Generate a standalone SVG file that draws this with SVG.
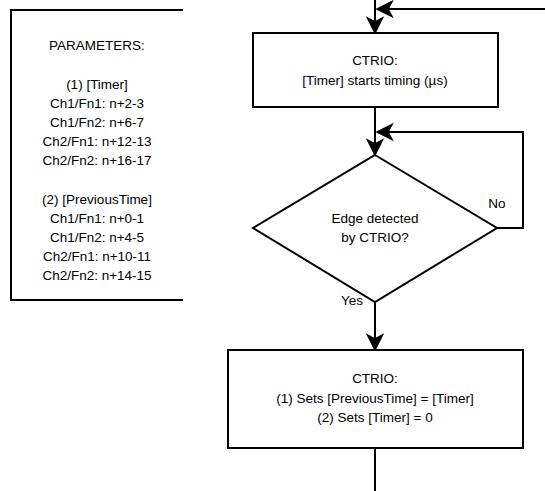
<svg xmlns="http://www.w3.org/2000/svg" width="545" height="491" viewBox="0 0 545 491">
<style>
text{font-family:"Liberation Sans",Arial,sans-serif;font-size:13.5px;fill:#000;text-anchor:middle;dominant-baseline:central}
.s{fill:#fff;stroke:#000;stroke-width:2}
.c{fill:none;stroke:#000;stroke-width:2}
</style>
<defs>
<marker id="a" markerUnits="userSpaceOnUse" viewBox="-18 -10 20 20" refX="0" refY="0" markerWidth="20" markerHeight="20" orient="auto">
<path d="M0,0 L-15,-7.5 L-11,0 L-15,7.5 Z" fill="#000" stroke="#000" stroke-width="1.5"/>
</marker>
</defs>
<rect width="545" height="491" fill="#fff"/>
<g id="params">
<path class="c" d="M183,10 H11 V300 H183"/>
<text x="97" y="45">PARAMETERS:</text>
<text x="97" y="84">(1) [Timer]</text>
<text x="97" y="103">Ch1/Fn1: n+2-3</text>
<text x="97" y="122">Ch1/Fn2: n+6-7</text>
<text x="97" y="141">Ch2/Fn1: n+12-13</text>
<text x="97" y="160">Ch2/Fn2: n+16-17</text>
<text x="97" y="199">(2) [PreviousTime]</text>
<text x="97" y="218">Ch1/Fn1: n+0-1</text>
<text x="97" y="237">Ch1/Fn2: n+4-5</text>
<text x="97" y="256">Ch2/Fn1: n+10-11</text>
<text x="97" y="275">Ch2/Fn2: n+14-15</text>
</g>
<g id="connectors">
<path class="c" d="M375,0 V33" marker-end="url(#a)"/>
<path class="c" d="M545,9 H377" marker-end="url(#a)"/>
<path class="c" d="M375,107 V155" marker-end="url(#a)"/>
<path class="c" d="M497,228 H523 V132 H377" marker-end="url(#a)"/>
<path class="c" d="M375,302 V350" marker-end="url(#a)"/>
<path class="c" d="M375,448 V491"/>
<text x="497" y="203">No</text>
<text x="352" y="300">Yes</text>
</g>
<g id="start">
<rect class="s" x="253" y="33" width="245" height="74"/>
<text x="375" y="60">CTRIO:</text>
<text x="375" y="80">[Timer] starts timing (µs)</text>
</g>
<g id="decision">
<path class="s" d="M375,155 L497,228 L375,302 L253,228 Z"/>
<text x="375" y="218">Edge detected</text>
<text x="375" y="237">by CTRIO?</text>
</g>
<g id="action">
<rect class="s" x="228" y="350" width="295" height="98"/>
<text x="375" y="378">CTRIO:</text>
<text x="375" y="398">(1) Sets [PreviousTime] = [Timer]</text>
<text x="375" y="417">(2) Sets [Timer] = 0</text>
</g>
</svg>
